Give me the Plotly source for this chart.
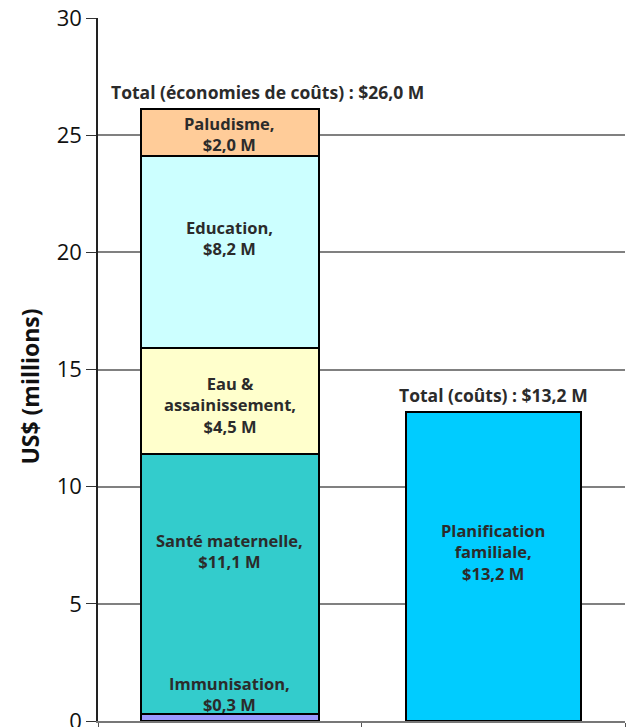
import plotly.graph_objects as go

categories = ["Économies de coûts", "Coûts"]
segment_names = ["Immunisation", "Santé maternelle", "Eau & assainissement", "Education", "Paludisme"]
segment_values = [0.3, 11.1, 4.5, 8.2, 2.0]
segment_colors = ["#9999FF", "#33CCCC", "#FFFFCC", "#CCFFFF", "#FFCC99"]
segment_labels = ["Immunisation,<br>$0,3 M", "Santé maternelle,<br>$11,1 M",
                  "Eau &<br>assainissement,<br>$4,5 M", "Education,<br>$8,2 M",
                  "Paludisme,<br>$2,0 M"]
label_y = [1.15, 7.26, 13.5, 20.63, 25.07]

cost_name = "Planification familiale"
cost_value = 13.2
cost_color = "#00CCFF"
cost_label = "Planification<br>familiale,<br>$13,2 M"
cost_label_y = 7.21

total_labels = ["Total (économies de coûts) : $26,0 M", "Total (coûts) : $13,2 M"]
total_label_y = [26.84, 13.91]
total_label_x = [0.145, 0.0]

y_ticks = [0, 5, 10, 15, 20, 25, 30]

FONT = "Open Sans"
TXT = "#2b2b2b"

fig = go.Figure()
for name, val, col in zip(segment_names, segment_values, segment_colors):
    fig.add_trace(go.Bar(x=[categories[0]], y=[val], name=name, marker_color=col,
                         marker_line=dict(color="black", width=2), width=0.675,
                         hoverinfo="skip"))
fig.add_trace(go.Bar(x=[categories[1]], y=[cost_value], name=cost_name, marker_color=cost_color,
                     marker_line=dict(color="black", width=2), width=0.665, hoverinfo="skip"))

annotations = []
for lab, yy in zip(segment_labels, label_y):
    annotations.append(dict(x=categories[0], y=yy, text="<b>" + lab + "</b>", showarrow=False,
                            font=dict(family=FONT, size=16.5, color=TXT), align="center"))
annotations.append(dict(x=categories[1], y=cost_label_y, text="<b>" + cost_label + "</b>", showarrow=False,
                        font=dict(family=FONT, size=16.5, color=TXT), align="center"))
for i, (lab, yy, dx) in enumerate(zip(total_labels, total_label_y, total_label_x)):
    annotations.append(dict(x=i + dx, y=yy, text="<b>" + lab + "</b>", showarrow=False,
                            font=dict(family=FONT, size=17.5, color=TXT)))
annotations.append(dict(xref="paper", yref="paper", x=-0.128, y=0.475, text="<b>US$ (millions)</b>",
                        textangle=-90, showarrow=False, xanchor="center", yanchor="middle",
                        font=dict(family=FONT, size=23, color="#111111")))

fig.update_layout(
    barmode="stack",
    width=634, height=727,
    margin=dict(l=90, r=17, t=10, b=14),
    paper_bgcolor="white", plot_bgcolor="white",
    showlegend=False,
    annotations=annotations,
    bargap=0.3,
    xaxis=dict(showticklabels=False, ticks="outside", tickson="boundaries", ticklen=7,
               tickcolor="#555555", showline=True, linecolor="#777777", linewidth=1.5,
               showgrid=False, range=[-0.5, 1.5], automargin=False),
    yaxis=dict(range=[0, 30], tickvals=y_ticks, ticks="outside", ticklen=10,
               tickcolor="#333333", showline=True, linecolor="#222222", linewidth=1.5,
               showgrid=True, gridcolor="#808080", gridwidth=1.5, zeroline=False,
               ticklabeloverflow="allow",
               tickfont=dict(family=FONT, size=22, color="#111111"), automargin=False),
)

fig.write_html("out.html")
